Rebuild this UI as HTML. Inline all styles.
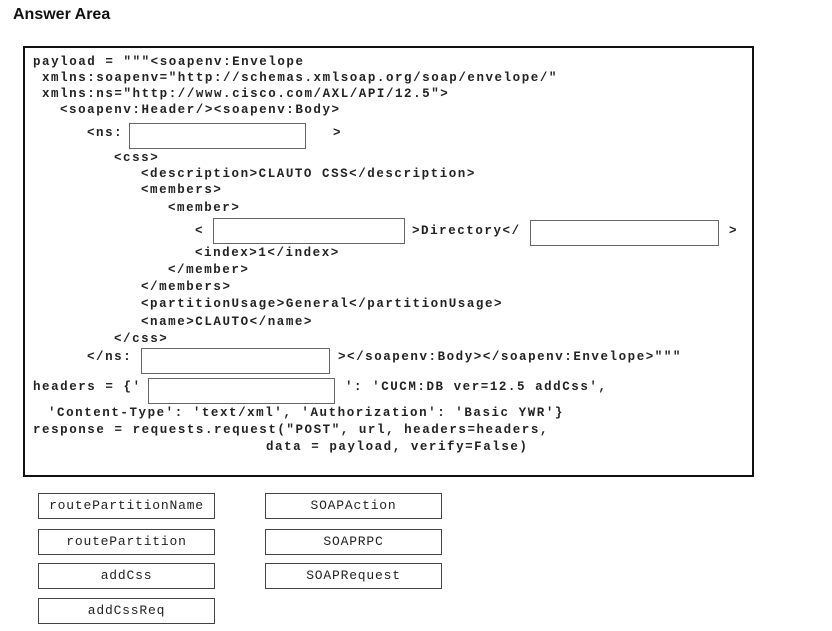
<!DOCTYPE html>
<html><head><meta charset="utf-8"><style>
body{margin:0;width:832px;height:631px;background:#fff;position:relative;overflow:hidden}
.t{position:absolute;left:13px;top:6px;font:bold 16px "Liberation Sans",sans-serif;color:#111}
.main{position:absolute;left:23px;top:46px;width:727px;height:427px;border:2px solid #111}
.l{position:absolute;font:bold 12.5px "Liberation Mono",monospace;letter-spacing:1.55px;color:#222;white-space:pre;line-height:14px}
.b{position:absolute;border:1.5px solid #666;background:#fff}
.o{position:absolute;border:1.5px solid #444;box-sizing:border-box;font:13px "Liberation Mono",monospace;color:#222;text-align:center;line-height:23px;letter-spacing:0.8px}
</style></head><body>
<div class="t">Answer Area</div>
<div class="main"></div>
<div class="l" style="left:33px;top:55px">payload = """&lt;soapenv:Envelope</div>
<div class="l" style="left:42px;top:71px">xmlns:soapenv="http://schemas.xmlsoap.org/soap/envelope/"</div>
<div class="l" style="left:42px;top:87px">xmlns:ns="http://www.cisco.com/AXL/API/12.5"&gt;</div>
<div class="l" style="left:60px;top:103px">&lt;soapenv:Header/&gt;&lt;soapenv:Body&gt;</div>
<div class="l" style="left:87px;top:126px">&lt;ns:</div>
<div class="b" style="left:129px;top:123px;width:175px;height:24px"></div>
<div class="l" style="left:333px;top:126px">&gt;</div>
<div class="l" style="left:114px;top:151px">&lt;css&gt;</div>
<div class="l" style="left:141px;top:167px">&lt;description&gt;CLAUTO CSS&lt;/description&gt;</div>
<div class="l" style="left:141px;top:183px">&lt;members&gt;</div>
<div class="l" style="left:168px;top:201px">&lt;member&gt;</div>
<div class="l" style="left:195px;top:224px">&lt;</div>
<div class="b" style="left:213px;top:218px;width:190px;height:24px"></div>
<div class="l" style="left:412px;top:224px">&gt;Directory&lt;/</div>
<div class="b" style="left:530px;top:220px;width:187px;height:24px"></div>
<div class="l" style="left:729px;top:224px">&gt;</div>
<div class="l" style="left:195px;top:246px">&lt;index&gt;1&lt;/index&gt;</div>
<div class="l" style="left:168px;top:263px">&lt;/member&gt;</div>
<div class="l" style="left:141px;top:280px">&lt;/members&gt;</div>
<div class="l" style="left:141px;top:297px">&lt;partitionUsage&gt;General&lt;/partitionUsage&gt;</div>
<div class="l" style="left:141px;top:315px">&lt;name&gt;CLAUTO&lt;/name&gt;</div>
<div class="l" style="left:114px;top:332px">&lt;/css&gt;</div>
<div class="l" style="left:87px;top:350px">&lt;/ns:</div>
<div class="b" style="left:141px;top:348px;width:187px;height:24px"></div>
<div class="l" style="left:338px;top:350px">&gt;&lt;/soapenv:Body&gt;&lt;/soapenv:Envelope&gt;"""</div>
<div class="l" style="left:33px;top:380px">headers = {'</div>
<div class="b" style="left:148px;top:378px;width:185px;height:24px"></div>
<div class="l" style="left:345px;top:380px">': 'CUCM:DB ver=12.5 addCss',</div>
<div class="l" style="left:48px;top:406px">'Content-Type': 'text/xml', 'Authorization': 'Basic YWR'}</div>
<div class="l" style="left:33px;top:423px">response = requests.request("POST", url, headers=headers,</div>
<div class="l" style="left:266px;top:440px">data = payload, verify=False)</div>
<div class="o" style="left:38px;top:493px;width:177px;height:26px">routePartitionName</div>
<div class="o" style="left:38px;top:529px;width:177px;height:26px">routePartition</div>
<div class="o" style="left:38px;top:563px;width:177px;height:26px">addCss</div>
<div class="o" style="left:38px;top:598px;width:177px;height:26px">addCssReq</div>
<div class="o" style="left:265px;top:493px;width:177px;height:26px">SOAPAction</div>
<div class="o" style="left:265px;top:529px;width:177px;height:26px">SOAPRPC</div>
<div class="o" style="left:265px;top:563px;width:177px;height:26px">SOAPRequest</div>
</body></html>
